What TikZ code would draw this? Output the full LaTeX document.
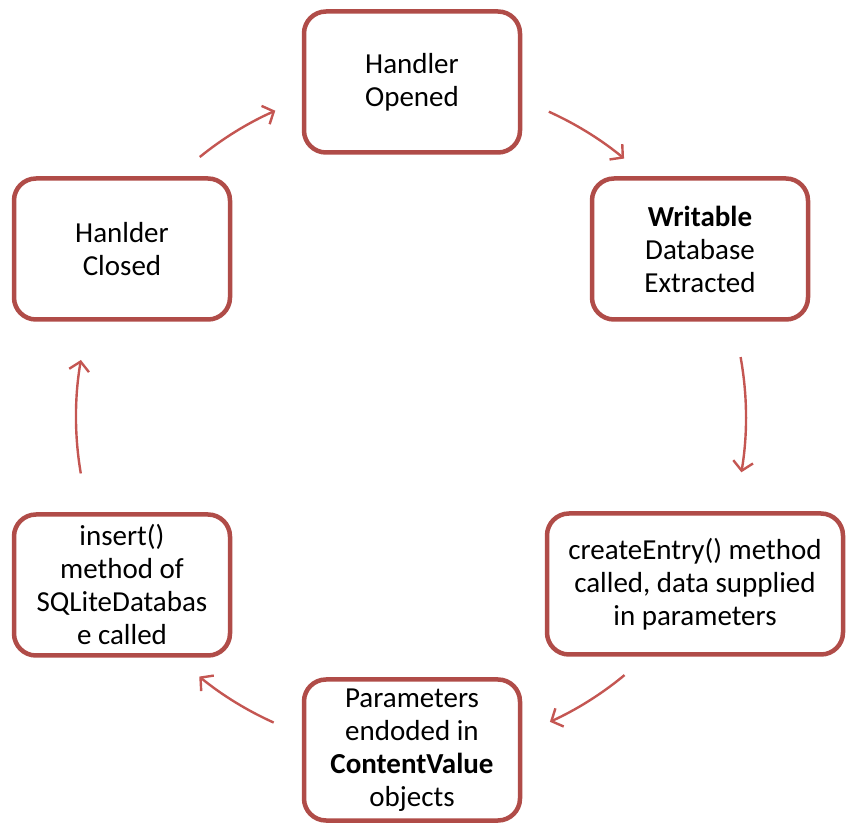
\documentclass[tikz,border=0pt]{standalone}
\usepackage{fontspec}
\setmainfont{Carlito}
\usetikzlibrary{arrows.meta,calc}
\definecolor{boxred}{RGB}{176,76,72}
\definecolor{arrred}{RGB}{196,86,82}
\tikzset{
  stage/.style={draw=boxred, line width=4.5pt, rounded corners=22pt, fill=white,
    minimum width=216pt, minimum height=141pt, align=center, inner sep=2pt,
    font=\fontsize{29}{33}\selectfont, text=black},
  cyc/.style={draw=arrred, line width=2.4pt,
    -{Straight Barb[length=9pt,width=20pt,line width=2.4pt]}}
}
\begin{document}
\begin{tikzpicture}[x=1pt,y=1pt]
\useasboundingbox (0,0) rectangle (847,823);
\node[stage] (opened) at (412,741) {Handler\\Opened};
\node[stage] (writable) at (700,574) {\textbf{Writable}\\Database\\Extracted};
\node[stage, minimum width=296pt] (create) at (695,239) {createEntry() method\\called, data supplied\\in parameters};
\node[stage] (params) at (412,73) {Parameters\\endoded in\\\textbf{ContentValue}\\objects};
\node[stage] (insert) at (122,238) {insert()\\method of\\SQLiteDatabas\\e called};
\node[stage] (closed) at (122,574) {Hanlder\\Closed};
\coordinate (c) at (411,406);
\coordinate (a1) at ($(c)+(129.1:335)$);
\coordinate (a2) at ($(c)+(65.7:335)$);
\coordinate (a3) at ($(c)+(10.3:335)$);
\coordinate (a4) at ($(c)+(-50.4:335)$);
\coordinate (a5) at ($(c)+(-114.2:335)$);
\coordinate (a6) at ($(c)+(189.7:335)$);
\draw[cyc] (a1) arc[start angle=129.1, end angle=113.9, radius=335];
\draw[cyc] (a2) arc[start angle=65.7, end angle=50.5, radius=335];
\draw[cyc] (a3) arc[start angle=10.3, end angle=-9.5, radius=335];
\draw[cyc] (a4) arc[start angle=-50.4, end angle=-65.5, radius=335];
\draw[cyc] (a5) arc[start angle=-114.2, end angle=-129.2, radius=335];
\draw[cyc] (a6) arc[start angle=189.7, end angle=170.2, radius=335];
\end{tikzpicture}
\end{document}
